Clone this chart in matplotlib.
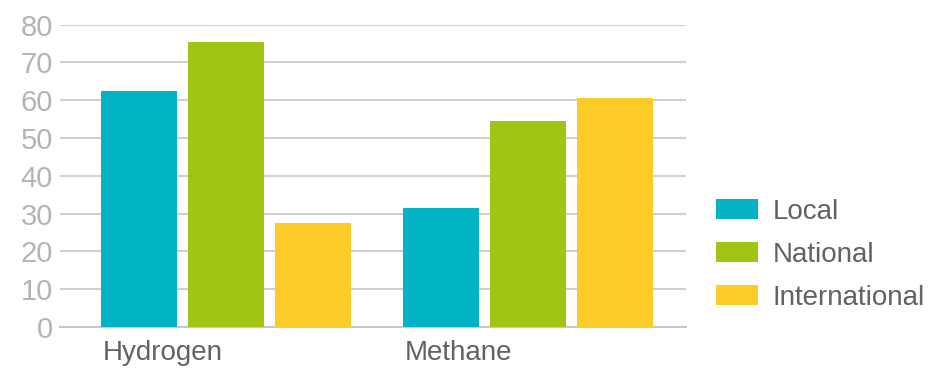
import numpy as np
import matplotlib.pyplot as plt

categories = ['Hydrogen', 'Methane']
series = ['Local', 'National', 'International']
local = [62.5, 31.5]
national = [75.5, 54.5]
international = [27.5, 60.5]
yticks = [0, 10, 20, 30, 40, 50, 60, 70, 80]

colors = ['#00B3C5', '#A1C514', '#FDCC28']
plt.rcParams['font.family'] = ['Liberation Sans', 'DejaVu Sans']

fig = plt.figure(figsize=(9.38, 3.70), dpi=100)
ax = fig.add_axes([60/938, 43/370, 626/938, 302.3/370])

x = np.arange(len(categories))
w = 76/302
step = 87/302
for i, (vals, lab) in enumerate(zip([local, national, international], series)):
    ax.bar(x + (i - 1)*step, vals, w, color=colors[i], label=lab, zorder=3)

ax.set_xlim((60-226)/302, (686-226)/302)
ax.set_ylim(0, 80)
ax.set_yticks(yticks)
ax.yaxis.grid(True, color='#d0d0d0', linewidth=1.5, zorder=0)
for s in ['top', 'right', 'left']:
    ax.spines[s].set_visible(False)
ax.spines['bottom'].set_color('#c8c8c8')
ax.spines['bottom'].set_linewidth(1.5)
ax.tick_params(axis='y', length=0, pad=5, labelsize=21, labelcolor='#b4b4b4')

ax.set_xticks(x - step - w/2 + 1.5/302)
ax.set_xticklabels(categories, ha='left')
ax.tick_params(axis='x', length=0, pad=9, labelsize=20, labelcolor='#626262')

leg = fig.legend(loc='upper left', bbox_to_anchor=(716/938, 1 - 199/370),
                 frameon=False, fontsize=20, handlelength=1.5, handleheight=0.75,
                 handletextpad=0.55, labelspacing=0.61, borderpad=0, borderaxespad=0)
for t in leg.get_texts():
    t.set_color('#626262')

fig.savefig('out.png', dpi=100)
